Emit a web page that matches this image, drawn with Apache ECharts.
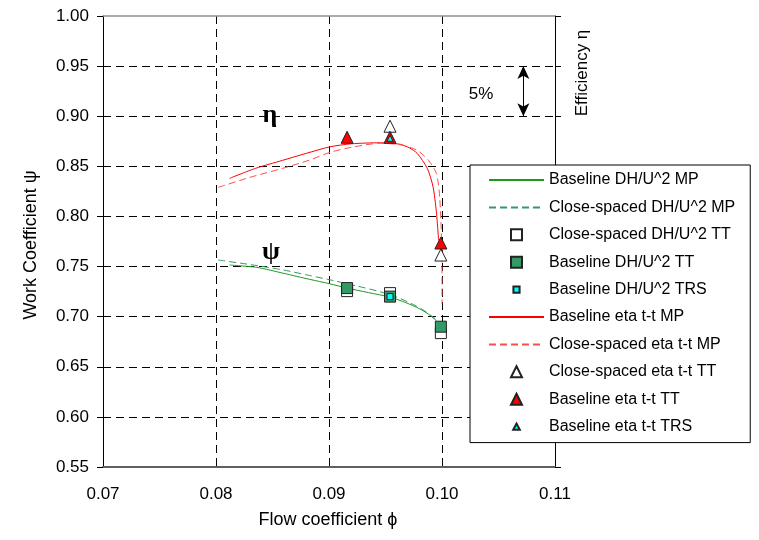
<!DOCTYPE html>
<html>
<head>
<meta charset="utf-8">
<script src="https://cdn.jsdelivr.net/npm/echarts@6/dist/echarts.min.js"></script>
<style>
  html, body { margin: 0; padding: 0; background: #fff; }
  #main { width: 759px; height: 540px; }
</style>
</head>
<body>
<div id="main"></div>
<script>
// axis ticks
var phiTicks = [0.07, 0.08, 0.09, 0.10, 0.11];
var psiTicks = [0.55, 0.60, 0.65, 0.70, 0.75, 0.80, 0.85, 0.90, 0.95, 1.00];

// work coefficient curves (DH/U^2)
var phiBaseWorkMP = [0.0812, 0.0836, 0.0860, 0.0883, 0.0900, 0.0916, 0.0935, 0.0954, 0.0968, 0.0980, 0.0988, 0.0995];
var psiBaseWorkMP = [0.7515, 0.7492, 0.7432, 0.7372, 0.7330, 0.7285, 0.7240, 0.7195, 0.7140, 0.7080, 0.7025, 0.6960];
var phiCloseWorkMP = [0.0802, 0.0830, 0.0860, 0.0883, 0.0904, 0.0925, 0.0945, 0.0960, 0.0972, 0.0983, 0.0994];
var psiCloseWorkMP = [0.7565, 0.7520, 0.7465, 0.7410, 0.7360, 0.7305, 0.7250, 0.7195, 0.7135, 0.7070, 0.6980];

// work coefficient test points
var phiCloseWorkTT = [0.0916, 0.0954, 0.0999];
var psiCloseWorkTT = [0.7255, 0.7235, 0.6836];
var phiBaseWorkTT = [0.0916, 0.0954, 0.0999];
var psiBaseWorkTT = [0.7285, 0.7200, 0.6900];
var phiBaseWorkTRS = [0.0954];
var psiBaseWorkTRS = [0.7200];

// efficiency curves (eta t-t)
var phiBaseEtaMP = [0.0812, 0.0835, 0.0859, 0.0880, 0.0901, 0.0920, 0.0945, 0.0963, 0.0971, 0.0978, 0.0987, 0.0992, 0.0995, 0.0997];
var etaBaseEtaMP = [0.8380, 0.8480, 0.8560, 0.8630, 0.8695, 0.8725, 0.8735, 0.8720, 0.8685, 0.8630, 0.8480, 0.8300, 0.8050, 0.7760];
var phiCloseEtaMP = [0.0802, 0.0830, 0.0859, 0.0883, 0.0901, 0.0920, 0.0945, 0.0963, 0.0978, 0.0988, 0.0995, 0.0998, 0.1000, 0.1000];
var etaCloseEtaMP = [0.8290, 0.8390, 0.8480, 0.8563, 0.8640, 0.8690, 0.8730, 0.8715, 0.8660, 0.8560, 0.8430, 0.8190, 0.7530, 0.7130];

// efficiency test points
var phiCloseEtaTT = [0.0954, 0.0999];
var etaCloseEtaTT = [0.8900, 0.7615];
var phiBaseEtaTT = [0.0916, 0.0954, 0.0999];
var etaBaseEtaTT = [0.8790, 0.8790, 0.7735];
var phiBaseEtaTRS = [0.0954];
var etaBaseEtaTRS = [0.8780];

// 5% bar on the efficiency scale
var etaScaleBar = [0.95, 0.90];
var etaScaleBarPhi = 0.1072;

var seriesNames = [
    'Baseline DH/U^2 MP',
    'Close-spaced DH/U^2 MP',
    'Close-spaced DH/U^2 TT',
    'Baseline DH/U^2 TT',
    'Baseline DH/U^2 TRS',
    'Baseline eta t-t MP',
    'Close-spaced eta t-t MP',
    'Close-spaced eta t-t TT',
    'Baseline eta t-t TT',
    'Baseline eta t-t TRS'
];

// legend icons (path icons keep their aspect; the extra moves pad the small ones)
var iconSquare = 'path://M0,0L100,0L100,100L0,100Z';
var iconSquareSmall = 'path://M0,0M100,100M22,22L78,22L78,78L22,78Z';
var iconTriangle = 'path://M50,0L100,100L0,100Z';
var iconTriangleSmall = 'path://M0,0M100,100M50,22L80,78L20,78Z';

function pairs(xs, ys) {
    return xs.map(function (x, i) { return [x, ys[i]]; });
}

var font = '"Liberation Sans", Arial, sans-serif';
var gridDash = { color: '#000', width: 1, type: [8, 5] };

function lineSeries(name, xs, ys, color, dashed) {
    return {
        name: name,
        type: 'line',
        data: pairs(xs, ys),
        symbol: 'none',
        showSymbol: false,
        smooth: 0.25,
        lineStyle: { color: color, width: 1, type: dashed ? [7, 4] : 'solid' },
        itemStyle: { color: color },
        z: 2
    };
}

function pointSeries(name, xs, ys, symbol, size, fill) {
    return {
        name: name,
        type: 'scatter',
        data: pairs(xs, ys),
        symbol: symbol,
        symbolSize: size,
        itemStyle: { color: fill, borderColor: '#222', borderWidth: 1, opacity: 1 },
        z: 3
    };
}

function lineItem(name) {
    return { name: name, itemStyle: { opacity: 0 } };
}

var chart = echarts.init(document.getElementById('main'), null, { renderer: 'canvas' });

var etaLine = lineSeries(seriesNames[5], phiBaseEtaMP, etaBaseEtaMP, '#ff0000', false);
etaLine.markLine = {
    silent: true,
    symbol: ['arrow', 'arrow'],
    symbolSize: [9, 13],
    label: { show: false },
    lineStyle: { color: '#000', width: 1, type: 'solid' },
    emphasis: { disabled: true },
    data: [[{ coord: [etaScaleBarPhi, etaScaleBar[0]] }, { coord: [etaScaleBarPhi, etaScaleBar[1]] }]]
};

var option = {
    animation: false,
    backgroundColor: '#fff',
    textStyle: { fontFamily: font },
    grid: { left: 103, right: 204, top: 16, bottom: 73 },
    xAxis: [{
        type: 'value',
        min: phiTicks[0],
        max: phiTicks[phiTicks.length - 1],
        interval: 0.01,
        axisLine: { lineStyle: { color: '#606060', width: 2 } },
        axisTick: { show: false },
        axisLabel: { color: '#000', fontSize: 17, margin: 19, fontFamily: font,
            formatter: function (v) { return v.toFixed(2); } },
        splitLine: { show: true, lineStyle: gridDash }
    }, {
        type: 'value',
        position: 'top',
        min: phiTicks[0],
        max: phiTicks[phiTicks.length - 1],
        interval: 0.01,
        axisLine: { onZero: false, lineStyle: { color: '#909090', width: 1.5 } },
        axisTick: { show: false },
        axisLabel: { show: false },
        splitLine: { show: false }
    }],
    yAxis: [{
        type: 'value',
        min: psiTicks[0],
        max: psiTicks[psiTicks.length - 1],
        interval: 0.05,
        axisLine: { show: true, onZero: false, lineStyle: { color: '#000', width: 1 } },
        axisTick: { show: true, length: 6, lineStyle: { color: '#000' } },
        axisLabel: { color: '#000', fontSize: 17, margin: 14, fontFamily: font,
            formatter: function (v) { return v.toFixed(2); } },
        splitLine: { show: true, showMaxLine: false, showMinLine: false, lineStyle: gridDash }
    }, {
        type: 'value',
        position: 'right',
        min: psiTicks[0],
        max: psiTicks[psiTicks.length - 1],
        interval: 0.05,
        axisLine: { show: true, onZero: false, lineStyle: { color: '#000', width: 1 } },
        axisTick: { show: true, length: 6, lineStyle: { color: '#000' } },
        axisLabel: { show: false },
        splitLine: { show: false }
    }],
    legend: {
        orient: 'vertical',
        left: 470,
        top: 165,
        padding: [7, 15, 8, 18],
        itemWidth: 55,
        itemHeight: 11,
        itemGap: 11.4,
        backgroundColor: '#fff',
        borderColor: '#000',
        borderWidth: 1,
        borderRadius: 0,
        selectedMode: false,
        textStyle: { color: '#000', fontSize: 16, lineHeight: 16, fontFamily: font },
        data: [
            lineItem(seriesNames[0]),
            lineItem(seriesNames[1]),
            { name: seriesNames[2], icon: iconSquare },
            { name: seriesNames[3], icon: iconSquare },
            { name: seriesNames[4], icon: iconSquareSmall },
            lineItem(seriesNames[5]),
            lineItem(seriesNames[6]),
            { name: seriesNames[7], icon: iconTriangle },
            { name: seriesNames[8], icon: iconTriangle },
            { name: seriesNames[9], icon: iconTriangleSmall }
        ]
    },
    graphic: [
        { type: 'text', x: 270, y: 115, style: { text: 'η', font: 'bold 26px "Liberation Serif", serif', fill: '#000', textAlign: 'center', textVerticalAlign: 'middle' } },
        { type: 'text', x: 271, y: 252, style: { text: 'ψ', font: 'bold 26px "Liberation Serif", serif', fill: '#000', textAlign: 'center', textVerticalAlign: 'middle' } },
        { type: 'text', x: 481, y: 94, style: { text: '5%', font: '17px ' + font, fill: '#000', textAlign: 'center', textVerticalAlign: 'middle' } },
        { type: 'text', x: 31, y: 245, rotation: Math.PI / 2, style: { text: 'Work Coefficient ψ', font: '18px ' + font, fill: '#000', textAlign: 'center', textVerticalAlign: 'middle' } },
        { type: 'text', x: 328, y: 520, style: { text: 'Flow coefficient ϕ', font: '18px ' + font, fill: '#000', textAlign: 'center', textVerticalAlign: 'middle' } },
        { type: 'text', x: 582, y: 73, rotation: Math.PI / 2, style: { text: 'Efficiency η', font: '17px ' + font, fill: '#000', textAlign: 'center', textVerticalAlign: 'middle' } }
    ],
    series: [
        lineSeries(seriesNames[0], phiBaseWorkMP, psiBaseWorkMP, '#1f9a1f', false),
        lineSeries(seriesNames[1], phiCloseWorkMP, psiCloseWorkMP, '#339966', true),
        pointSeries(seriesNames[2], phiCloseWorkTT, psiCloseWorkTT, 'rect', 11, '#fff'),
        pointSeries(seriesNames[3], phiBaseWorkTT, psiBaseWorkTT, 'rect', 11, '#339966'),
        pointSeries(seriesNames[4], phiBaseWorkTRS, psiBaseWorkTRS, 'rect', 6, '#00ffff'),
        etaLine,
        lineSeries(seriesNames[6], phiCloseEtaMP, etaCloseEtaMP, '#ff4d4d', true),
        pointSeries(seriesNames[7], phiCloseEtaTT, etaCloseEtaTT, 'triangle', 12, '#fff'),
        pointSeries(seriesNames[8], phiBaseEtaTT, etaBaseEtaTT, 'triangle', 12, '#ff0000'),
        pointSeries(seriesNames[9], phiBaseEtaTRS, etaBaseEtaTRS, 'triangle', 6, '#00ffff')
    ]
};

chart.setOption(option);
</script>
</body>
</html>
